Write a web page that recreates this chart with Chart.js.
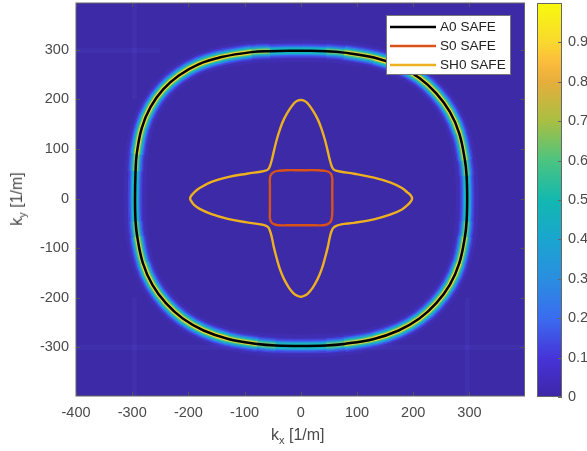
<!DOCTYPE html>
<html>
<head>
<meta charset="utf-8">
<title>Wavenumber map</title>
<script src="https://cdn.jsdelivr.net/npm/chart.js@4/dist/chart.umd.min.js"></script>
<style>
	html, body { margin: 0; padding: 0; background: #fff; }
	body { width: 587px; height: 451px; position: relative; overflow: hidden; font-family: "Liberation Sans", Arial, sans-serif; color: #4a4a4a; }
	canvas { position: absolute; top: 0; filter: blur(0.35px); }
	#chart { left: 0; }
	#bar { left: 525px; }
	.axis-label { position: absolute; font-size: 16px; line-height: 18px; white-space: nowrap; }
	.axis-label sub { font-size: 11px; line-height: 0; }
	#xlabel { left: 271px; top: 426px; }
	#ylabel { left: 17px; top: 199px; transform: translate(-50%, -50%) rotate(-90deg); }
</style>
</head>
<body>
<canvas id="chart" width="587" height="451"></canvas>
<canvas id="bar" width="62" height="451"></canvas>
<div class="axis-label" id="xlabel">k<sub>x</sub> [1/m]</div>
<div class="axis-label" id="ylabel">k<sub>y</sub> [1/m]</div>
<script>
const xTicks = [-400, -300, -200, -100, 0, 100, 200, 300];
const yTicks = [-300, -200, -100, 0, 100, 200, 300];
const barTicks = [0, 0.1, 0.2, 0.3, 0.4, 0.5, 0.6, 0.7, 0.8, 0.9];

// curves, [kx, ky], clockwise from the top
const a0Safe = [
	[0, 298], [45, 297], [77, 294], [130, 284], [174, 267], [211, 243], [241, 212], [265, 175], [282, 131], [292, 77], [295, 46],
	[296, 0], [295, -46], [292, -77], [282, -130], [265, -174], [241, -211], [211, -242], [174, -266], [130, -283], [77, -293], [45, -296],
	[0, -297], [-45, -296], [-77, -293], [-129, -283], [-173, -266], [-210, -242], [-240, -211], [-264, -174], [-281, -130], [-291, -77], [-294, -46],
	[-295, 0], [-294, 55], [-292, 89], [-283, 142], [-267, 185], [-245, 220], [-217, 248], [-183, 270], [-141, 285], [-88, 295], [-55, 297],
];
const s0Safe = [
	[0, 57], [30, 57], [41, 56], [49, 54], [54, 49], [56, 40], [56, 28], [56, 0], [56, -28], [55, -40], [53, -47], [47, -52], [38, -54], [26, -54],
	[0, -54], [-26, -54], [-38, -54], [-47, -52], [-53, -47], [-55, -39], [-55, -27], [-55, 0], [-55, 27], [-55, 40], [-53, 48], [-47, 54], [-39, 56], [-27, 57],
];
const sh0Safe = [
	[0, 199], [6, 197], [12, 192], [21, 178], [30, 160], [37, 140], [43, 118], [48, 95], [52, 76], [55, 65], [58, 59], [63, 56], [72, 54], [95, 50], [130, 42], [160, 32], [180, 21], [190, 12], [195, 7],
	[198, 0], [195, -7], [190, -13], [180, -22], [160, -32], [130, -42], [95, -49], [72, -52], [63, -55], [58, -59], [55, -65], [52, -76], [48, -98], [43, -120], [37, -143], [30, -162], [21, -180], [12, -192], [6, -196],
	[0, -198], [-6, -196], [-12, -192], [-21, -180], [-30, -162], [-37, -143], [-43, -120], [-48, -98], [-52, -76], [-55, -65], [-58, -58], [-64, -54], [-72, -52], [-96, -48], [-130, -41], [-160, -31], [-180, -21], [-190, -13], [-194, -7],
	[-197, 0], [-194, 7], [-190, 12], [-180, 21], [-160, 33], [-130, 43], [-96, 50], [-72, 54], [-63, 56], [-58, 59], [-55, 65], [-52, 76], [-48, 95], [-43, 118], [-37, 140], [-30, 160], [-21, 178], [-12, 192], [-6, 197],
];
// faint streaks in the background
const streakTop = [[-400, 298], [-250, 298]];
const streakBottom = [[-400, -300], [-120, -300]];
const streakBottomRight = [[120, -300], [398, -300]];
const streakLeft = [[-296, 394], [-296, 200]];
const streakLeftLow = [[-296, -200], [-296, -398]];
const streakRightLow = [[296, -200], [296, -398]];

// colorbar stops, value then colour
const barStops = [0, 0.1, 0.2, 0.3, 0.4, 0.5, 0.6, 0.7, 0.8, 0.85, 0.9, 1];
const barColors = ['#3e26a8', '#4634d8', '#3a6cf0', '#2a8ee0', '#1aa5cf', '#12b8b0', '#4cc480', '#a8bf42', '#e6ae3c', '#fcbc3c', '#f9d82e', '#f8fa0d'];

const pts = (arr) => arr.map(([x, y]) => ({ x, y }));
const closed = (arr) => pts(arr.concat([arr[0]]));

// the bright bands fade out towards the axes
function cornerFade(rgb) {
	return (ctx) => {
		const m = Math.min(Math.abs(ctx.p0.parsed.x), Math.abs(ctx.p0.parsed.y), Math.abs(ctx.p1.parsed.x), Math.abs(ctx.p1.parsed.y));
		return `rgba(${rgb},${Math.min(1, Math.max(0, (m - 25) / 70))})`;
	};
}

function curve(label, data, color, width, order) {
	return { label, data: closed(data), borderColor: color, borderWidth: width, order, showLine: true, pointRadius: 0, tension: 0.4, fill: false, borderJoinStyle: 'round' };
}

function glow(color, width, order, fadeRgb) {
	const ds = curve('', a0Safe, color, width, order);
	ds.glow = true;
	if (fadeRgb) ds.segment = { borderColor: cornerFade(fadeRgb) };
	return ds;
}

function streak(data) {
	return { label: '', glow: true, data: pts(data), borderColor: 'rgba(90,90,235,0.13)', borderWidth: 5, order: 30, showLine: true, pointRadius: 0 };
}

const frame = {
	id: 'frame',
	beforeDatasetsDraw(chart) {
		const { ctx, chartArea: a } = chart;
		ctx.save();
		ctx.fillStyle = '#3c2aa6';
		ctx.fillRect(a.left, a.top, a.right - a.left, a.bottom - a.top);
		ctx.restore();
	},
	afterDatasetsDraw(chart) {
		const { ctx, chartArea: a, scales } = chart;
		ctx.save();
		ctx.strokeStyle = '#555';
		ctx.lineWidth = 1;
		ctx.beginPath();
		xTicks.forEach((v) => {
			const x = Math.round(scales.x.getPixelForValue(v)) + 0.5;
			ctx.moveTo(x, a.bottom); ctx.lineTo(x, a.bottom - 4);
			ctx.moveTo(x, a.top); ctx.lineTo(x, a.top + 4);
		});
		yTicks.forEach((v) => {
			const y = Math.round(scales.y.getPixelForValue(v)) + 0.5;
			ctx.moveTo(a.left, y); ctx.lineTo(a.left + 4, y);
			ctx.moveTo(a.right, y); ctx.lineTo(a.right - 4, y);
		});
		ctx.stroke();
		ctx.strokeStyle = '#666';
		ctx.strokeRect(a.left, a.top, a.right - a.left, a.bottom - a.top);

		// legend box sits inside the axes
		const left = 386, top = 15, w = 125, h = 60;
		ctx.fillStyle = '#fff';
		ctx.fillRect(left, top, w, h);
		ctx.strokeStyle = '#777';
		ctx.strokeRect(left + 0.5, top + 0.5, w - 1, h - 1);
		ctx.font = '13.6px "Liberation Sans", Arial, sans-serif';
		ctx.textBaseline = 'middle';
		chart.data.datasets.filter((d) => !d.glow).forEach((d, i) => {
			const y = top + 12 + i * 19;
			ctx.strokeStyle = d.borderColor;
			ctx.lineWidth = d.borderWidth;
			ctx.beginPath();
			ctx.moveTo(left + 4, y); ctx.lineTo(left + 50, y);
			ctx.stroke();
			ctx.fillStyle = '#222';
			ctx.fillText(d.label, left + 54, y + 0.5);
		});
		ctx.restore();
	},
};

new Chart(document.getElementById('chart'), {
	type: 'scatter',
	data: {
		datasets: [
			curve('A0 SAFE', a0Safe, '#000000', 2.5, 1),
			curve('S0 SAFE', s0Safe, '#d95319', 2.4, 2),
			curve('SH0 SAFE', sh0Safe, '#edb120', 2.4, 3),
			glow('#f4d92e', 4.8, 4, '244,217,46'),
			glow('#5cc47a', 7, 5, '92,196,122'),
			glow('#18b4c0', 6.5, 6),
			glow('#18b4c0', 9.5, 7, '24,180,192'),
			glow('#2a8ee6', 8.5, 8),
			glow('#2a8ee6', 12, 9, '42,142,230'),
			glow('#3a60ec', 11, 10),
			glow('#3a60ec', 14, 11, '58,96,236'),
			glow('#4440d8', 14.5, 12),
			glow('#4440d8', 17, 13, '68,64,216'),
			glow('rgba(70,60,215,0.25)', 23, 14),
			streak(streakTop), streak(streakBottom), streak(streakBottomRight),
			streak(streakLeft), streak(streakLeftLow), streak(streakRightLow),
		],
	},
	options: {
		responsive: false,
		animation: false,
		layout: { padding: { left: 0, top: 3, right: 62.5, bottom: 0 } },
		plugins: { legend: { display: false }, tooltip: { enabled: false } },
		scales: {
			x: {
				type: 'linear', min: -400, max: 398,
				afterBuildTicks: (s) => { s.ticks = xTicks.map((value) => ({ value })); },
				afterFit: (s) => { s.height = 55; s.paddingLeft = 0; s.paddingRight = 0; },
				grid: { display: false, drawTicks: false },
				border: { display: false },
				ticks: { color: '#4a4a4a', padding: 8, maxRotation: 0, autoSkip: false, font: { family: '"Liberation Sans"', size: 14.5 } },
			},
			y: {
				type: 'linear', min: -398, max: 394,
				afterBuildTicks: (s) => { s.ticks = yTicks.map((value) => ({ value })); },
				afterFit: (s) => { s.width = 76; s.paddingTop = 0; s.paddingBottom = 0; },
				grid: { display: false, drawTicks: false },
				border: { display: false },
				ticks: { color: '#4a4a4a', padding: 7, autoSkip: false, font: { family: '"Liberation Sans"', size: 14.5 } },
			},
		},
	},
	plugins: [frame],
});

const barFrame = {
	id: 'barFrame',
	afterDatasetsDraw(chart) {
		const { ctx, chartArea: a, scales } = chart;
		ctx.save();
		ctx.strokeStyle = '#666';
		ctx.lineWidth = 1;
		ctx.strokeRect(a.left + 0.5, a.top + 0.5, a.right - a.left - 1, a.bottom - a.top - 1);
		ctx.beginPath();
		barTicks.forEach((v) => {
			const y = Math.round(scales.y.getPixelForValue(v)) + 0.5;
			ctx.moveTo(a.right, y); ctx.lineTo(a.right - 4, y);
		});
		ctx.stroke();
		ctx.restore();
	},
};

function barGradient(ctx) {
	const area = ctx.chart.chartArea;
	if (!area) return barColors[0];
	const g = ctx.chart.ctx.createLinearGradient(0, area.bottom, 0, area.top);
	barStops.forEach((v, i) => g.addColorStop(v, barColors[i]));
	return g;
}

new Chart(document.getElementById('bar'), {
	type: 'bar',
	data: {
		labels: [''],
		datasets: [{ data: [[0, 1]], backgroundColor: barGradient, barPercentage: 1, categoryPercentage: 1 }],
	},
	options: {
		responsive: false,
		animation: false,
		layout: { padding: { left: 12, top: 3, right: 0, bottom: 54 } },
		plugins: { legend: { display: false }, tooltip: { enabled: false } },
		scales: {
			x: { display: false },
			y: {
				position: 'right', min: 0, max: 1,
				afterBuildTicks: (s) => { s.ticks = barTicks.map((value) => ({ value })); },
				afterFit: (s) => { s.width = 25; s.paddingTop = 0; s.paddingBottom = 0; },
				grid: { display: false, drawTicks: false },
				border: { display: false },
				ticks: { color: '#4a4a4a', padding: 6, autoSkip: false, font: { family: '"Liberation Sans"', size: 14.5 }, callback: (v) => String(v) },
			},
		},
	},
	plugins: [barFrame],
});
</script>
</body>
</html>
